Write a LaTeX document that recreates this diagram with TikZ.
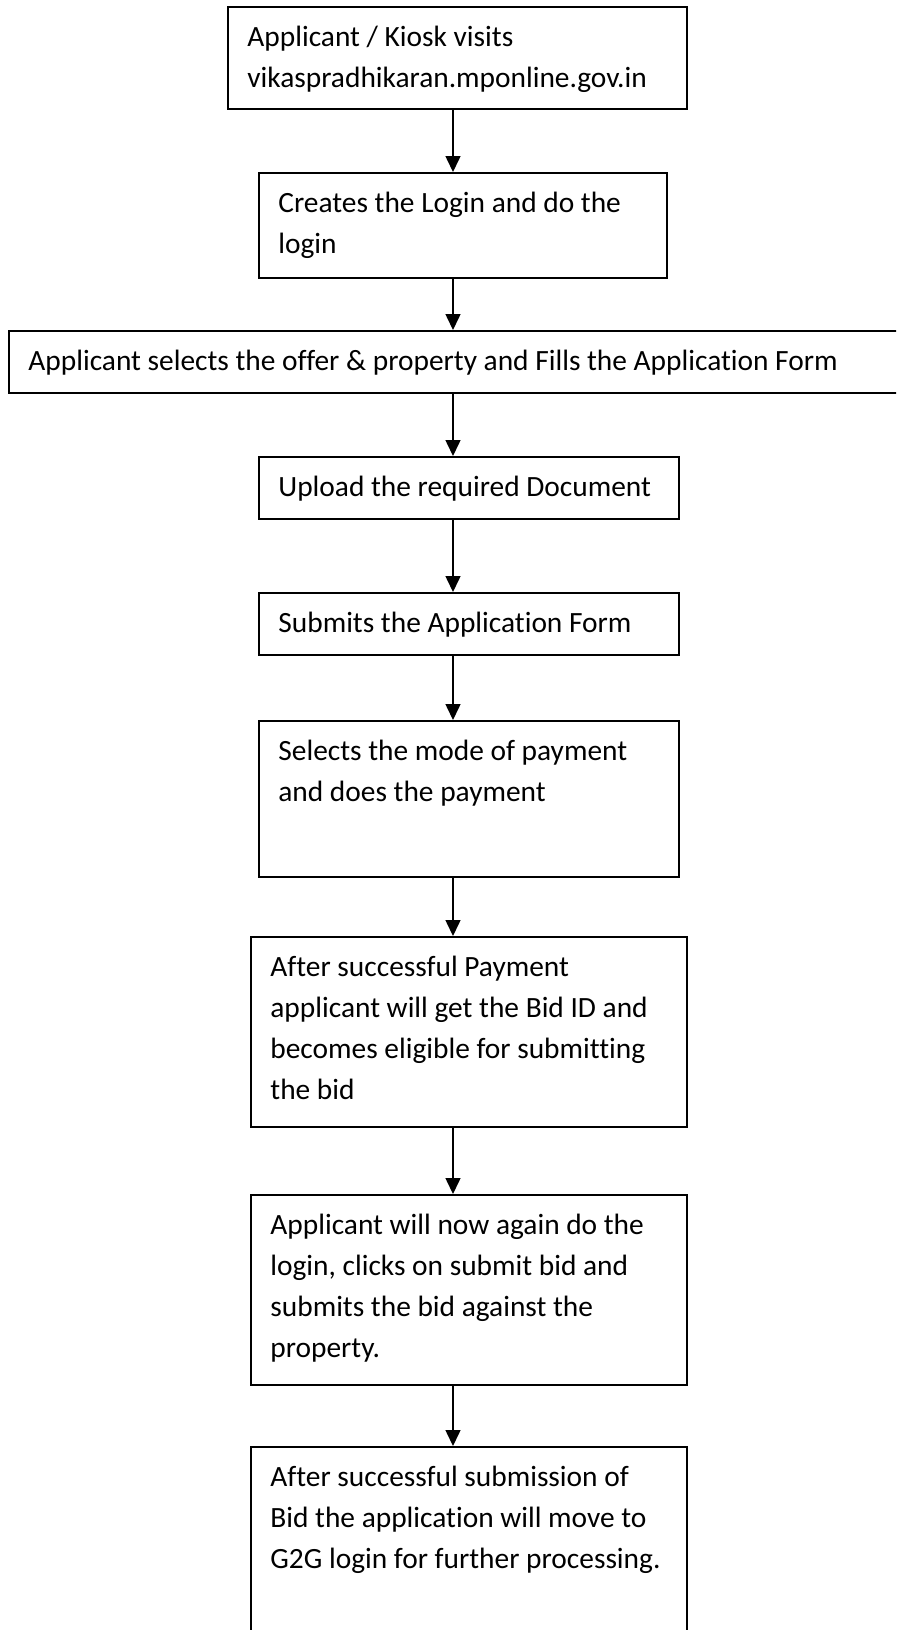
\documentclass[tikz,border=0pt]{standalone}
\usepackage{fontspec}
\setmainfont{Carlito}[Ligatures=NoCommon]
\usetikzlibrary{arrows.meta,fit}

\tikzset{
	stepbox/.style={draw, line width=1pt, inner sep=0pt},
	steptext/.style={anchor=north west, align=left, inner sep=0pt,
		font=\fontsize{14.7}{20.5}\selectfont},
}

\begin{document}
\begin{tikzpicture}[x=0.5pt,y=-0.5pt]
		\path[use as bounding box, clip] (0,0) rectangle (896,1630);
		\fill[white] (0,0) rectangle (896,1630);

		\node[stepbox, fit={(228,7) (687,109)}] (visit) {};
		\node[stepbox, fit={(259,173) (667,278)}] (login) {};
		\node[stepbox, fit={(9,331) (930,393)}] (select) {};
		\node[stepbox, fit={(259,457) (679,519)}] (upload) {};
		\node[stepbox, fit={(259,593) (679,655)}] (submit) {};
		\node[stepbox, fit={(259,721) (679,877)}] (pay) {};
		\node[stepbox, fit={(251,937) (687,1127)}] (bidid) {};
		\node[stepbox, fit={(251,1195) (687,1385)}] (bid) {};
		\node[stepbox, fit={(251,1447) (687,1700)}] (gtog) {};
		\coordinate (ax) at (453,0);

		\node[steptext] (visit') at ([xshift=10pt,yshift=-9.9pt]visit.north west)
			{Applicant / Kiosk visits\\vikaspradhikaran.mponline.gov.in};
		\node[steptext] (login') at ([xshift=10pt,yshift=-9.9pt]login.north west)
			{Creates the Login and do the\\login};
		\node[steptext] (select') at ([xshift=10pt,yshift=-9.9pt]select.north west)
			{Applicant selects the offer \& property and Fills the Application Form};
		\node[steptext] (upload') at ([xshift=10pt,yshift=-9.9pt]upload.north west)
			{Upload the required Document};
		\node[steptext] (submit') at ([xshift=10pt,yshift=-9.9pt]submit.north west)
			{Submits the Application Form};
		\node[steptext] (pay') at ([xshift=10pt,yshift=-9.9pt]pay.north west)
			{Selects the mode of payment\\and does the payment};
		\node[steptext] (bidid') at ([xshift=10pt,yshift=-9.9pt]bidid.north west)
			{After successful Payment\\applicant will get the Bid ID and\\becomes eligible for submitting\\the bid};
		\node[steptext] (bid') at ([xshift=10pt,yshift=-9.9pt]bid.north west)
			{Applicant will now again do the\\login, clicks on submit bid and\\submits the bid against the\\property.};
		\node[steptext] (gtog') at ([xshift=10pt,yshift=-9.9pt]gtog.north west)
			{After successful submission of\\Bid the application will move to\\G2G login for further processing.};

		%
		\path[->,line width=0.75pt,>={Triangle[length=8pt,width=7.5pt]}]
			(visit.south -| ax) edge (login.north -| ax)
			(login.south -| ax) edge (select.north -| ax)
			(select.south -| ax) edge (upload.north -| ax)
			(upload.south -| ax) edge (submit.north -| ax)
			(submit.south -| ax) edge (pay.north -| ax)
			(pay.south -| ax) edge (bidid.north -| ax)
			(bidid.south -| ax) edge (bid.north -| ax)
			(bid.south -| ax) edge (gtog.north -| ax);

	\end{tikzpicture}
\end{document}
